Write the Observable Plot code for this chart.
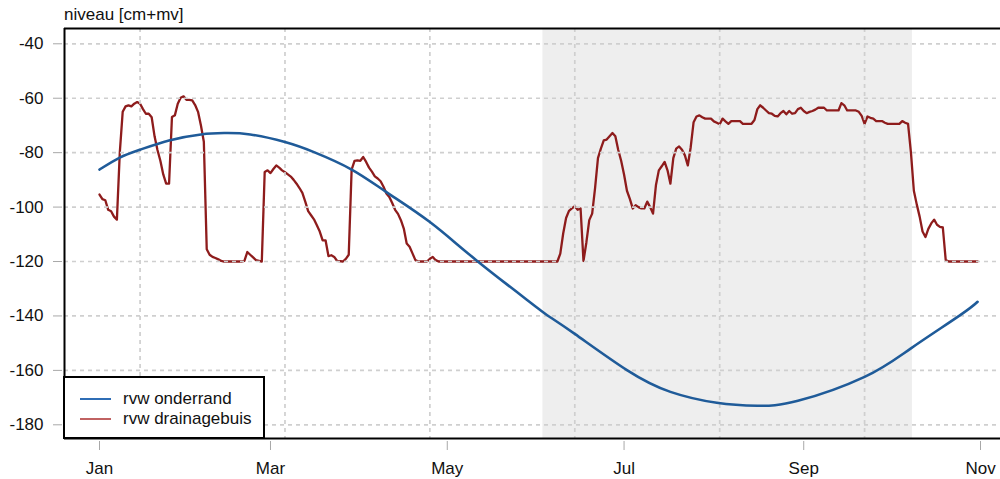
<!DOCTYPE html>
<html>
<head>
<meta charset="utf-8">
<script src="https://cdn.jsdelivr.net/npm/d3@7"></script>
<script src="https://cdn.jsdelivr.net/npm/@observablehq/plot@0.6"></script>
<style>
  html, body { margin: 0; padding: 0; background: #fff; overflow: hidden; }
  #wrap { position: relative; width: 1000px; height: 479px; font-family: "Liberation Sans", Arial, Helvetica, sans-serif; color: #111; }
  #title { position: absolute; left: 64px; top: 5px; font-size: 17px; line-height: 20px; }
  #legend { position: absolute; left: 63px; top: 376px; width: 198px; height: 59px; border: 2px solid #000; background: #fff; }
  .lg-row { position: absolute; left: 0; height: 20px; font-size: 17px; line-height: 20px; white-space: nowrap; }
  .lg-line { position: absolute; left: 15px; top: 9px; width: 31px; height: 2px; }
  .lg-text { position: absolute; left: 58px; top: 0; }
</style>
</head>
<body>
<div id="wrap">
  <div id="title"></div>
  <div id="chart"></div>
  <div id="legend"></div>
</div>
<script>
// ---------- data ----------
const yearStart = "2015-01-01";
const axisTitle = "niveau [cm+mv]";
const seriesNames = ["rvw onderrand", "rvw drainagebuis"];
const seriesColors = ["#1f5b99", "#8e1c1c"];
const legendColors = ["#2f6db5", "#c06262"];

// day offsets from 1 Jan and levels (cm+mv)
const onderrandDay = [0, 7, 14, 24, 35, 43, 52, 64, 74, 87, 99, 114, 130, 149, 155, 164, 182, 197, 213, 227, 241, 264, 280, 297, 303];
const onderrandValue = [-86.2, -81.8, -78.9, -75.5, -73.3, -72.8, -73.3, -76.1, -79.8, -86.2, -94.5, -105.5, -119.5, -135.3, -140.1, -146.6, -159.9, -167.9, -171.9, -173, -171.2, -162.4, -151.9, -139.7, -134.8];

const drainDay = [0,1,2,3,4,5,6,7,8,9,10,11,12,13,14,15,16,17,18,19,20,21,22,23,24,25,26,27,28,29,30,31,32,33,34,35,36,37,38,39,40,41,42,43,49,50,51,52,53,54,56,57,58,59,60,61,62,63,64,65,66,67,68,69,70,71,72,73,74,75,76,77,78,79,80,81,82,84,85,86,87,88,89,90,91,92,93,94,95,96,97,98,99,100,101,102,103,104,105,106,107,108,109,110,113,114,115,116,117,158,159,160,161,162,163,164,165,166,167,168,169,170,171,172,173,174,175,176,177,178,179,180,181,182,183,184,185,186,187,188,189,190,191,192,193,194,195,196,197,198,199,200,201,202,203,204,205,206,207,208,209,211,212,213,214,215,216,217,218,221,222,225,226,227,228,229,230,231,232,233,234,235,236,237,238,239,240,241,242,243,244,245,246,247,248,250,251,255,256,257,258,261,262,263,264,265,266,267,268,270,271,272,276,277,278,279,280,281,282,283,284,285,286,287,288,289,290,291,292,293,303];
const drainValue = [-95.4,-97.1,-97.5,-101,-101.5,-103.5,-104.6,-80,-65,-63,-62.6,-63,-62,-61.4,-62,-64,-65.7,-65.7,-67,-74,-79,-83,-88,-91.4,-91.4,-66.9,-66.3,-62,-59.8,-59.3,-60.6,-60.6,-60.8,-62.5,-65,-70,-76,-115.5,-117.5,-118.3,-118.7,-119.2,-119.8,-120,-120,-119.8,-116.5,-117.5,-118.5,-119.5,-120,-87.1,-86.5,-87.5,-86,-84.7,-85.5,-86.5,-87.2,-88,-88.8,-90,-91.4,-93,-94.8,-98,-101.5,-103,-104.5,-106.7,-109,-112.2,-112.2,-118,-117.7,-118.3,-119.8,-120,-119,-117.5,-86.2,-83,-82.8,-83,-81.6,-83.4,-85.5,-87,-88.7,-89.5,-90.5,-92.5,-95,-96.3,-98.5,-101,-102.5,-104.8,-107.9,-113.4,-114.6,-117,-119.5,-120,-120,-119,-118.3,-119.5,-120,-120,-117.1,-109.7,-104,-101.4,-100.5,-99.7,-101,-100.5,-119.8,-113,-104.8,-102.4,-93,-82,-78.5,-75.5,-75.2,-74,-72.8,-74,-79,-83,-88,-94,-97,-100.5,-99.3,-100,-100.5,-100.5,-98,-100,-102.4,-92,-86.5,-85,-83.4,-86.5,-91.4,-82,-78.5,-77.7,-78.9,-81,-84.7,-78,-68.8,-66.7,-66.3,-67,-67.5,-67.5,-68.5,-69,-69.6,-67.5,-68.5,-69.4,-68.4,-68.4,-69.4,-69.4,-68,-64,-62.6,-63.5,-64.5,-65.5,-65.7,-66.5,-66.7,-65.5,-64.7,-65.9,-64.7,-65.7,-65.5,-64,-63.5,-64.7,-65.5,-65,-64.7,-64.2,-63.5,-63.5,-64.5,-64.5,-61.8,-62.6,-64.5,-64.5,-65,-66.5,-69.4,-66.7,-67.2,-67.5,-68.4,-68.4,-69,-69.4,-69.4,-68.4,-69,-69.4,-80,-94,-99,-103.5,-109,-111,-108,-106,-104.6,-106.5,-107.3,-107.5,-119.5,-120,-120];

const shadedPeriod = ["2015-06-03", "2015-10-08T12:00"];
const monthTicks = ["2015-01-01", "2015-03-01", "2015-05-01", "2015-07-01", "2015-09-01", "2015-11-01"];
const gridDates = ["2015-01-15", "2015-03-06", "2015-04-25", "2015-06-14", "2015-08-03", "2015-09-22"];
const yTicks = [-180, -160, -140, -120, -100, -80, -60, -40];

// ---------- build ----------
const t0 = new Date(yearStart);
const dayToDate = d => new Date(t0.getTime() + d * 864e5);
const onderrand = onderrandDay.map((d, i) => ({date: dayToDate(d), value: onderrandValue[i]}));
const drain = drainDay.map((d, i) => ({date: dayToDate(d), value: drainValue[i]}));

const xDomain = [dayToDate(-12.08), dayToDate(310.9)];
const yDomain = [-185.03, -34.38];
const gridStyle = {stroke: "#cfcfcf", strokeWidth: 1.7, strokeDasharray: "4,4"};

const chart = Plot.plot({
  width: 1000,
  height: 479,
  marginLeft: 64,
  marginRight: 0,
  marginTop: 28,
  marginBottom: 41,
  style: {fontFamily: '"Liberation Sans", Arial, Helvetica, sans-serif', fontSize: "17px", background: "white", color: "#111"},
  x: {type: "utc", domain: xDomain},
  y: {domain: yDomain},
  marks: [
    Plot.rect([{a: new Date(shadedPeriod[0] + "Z"), b: new Date(shadedPeriod[1] + "Z")}], {x1: "a", x2: "b", fill: "#eeeeee"}),
    Plot.line(drain, {x: "date", y: "value", stroke: seriesColors[1], strokeWidth: 2.3, strokeLinejoin: "round"}),
    Plot.ruleY(yTicks, gridStyle),
    Plot.ruleX(gridDates.map(d => new Date(d)), gridStyle),
    Plot.line(onderrand, {x: "date", y: "value", stroke: seriesColors[0], strokeWidth: 2.6, curve: "natural"}),
    Plot.ruleX([xDomain[0]], {stroke: "#000", strokeWidth: 2}),
    Plot.ruleY(yDomain, {stroke: "#000", strokeWidth: 2}),
    Plot.axisY({ticks: yTicks, tickFormat: d => `${d}`, tickSize: 9, tickPadding: 10, dx: -2, stroke: "#a8a8a8", fill: "#111", label: null}),
    Plot.axisX({ticks: monthTicks.map(d => new Date(d)), tickFormat: d3.utcFormat("%b"), tickSize: 9, tickPadding: 11, dy: 3, stroke: "#a8a8a8", fill: "#111", label: null})
  ]
});
document.getElementById("chart").appendChild(chart);
document.getElementById("title").textContent = axisTitle;

const legend = document.getElementById("legend");
seriesNames.forEach((name, i) => {
  const row = document.createElement("div");
  row.className = "lg-row";
  row.style.top = (11 + i * 20) + "px";
  row.style.width = "100%";
  const ln = document.createElement("div");
  ln.className = "lg-line";
  ln.style.background = legendColors[i];
  const tx = document.createElement("div");
  tx.className = "lg-text";
  tx.textContent = name;
  row.appendChild(ln);
  row.appendChild(tx);
  legend.appendChild(row);
});
</script>
</body>
</html>
